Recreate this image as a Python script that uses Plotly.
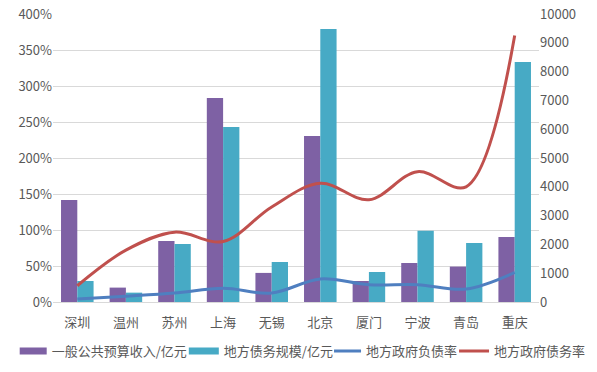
import plotly.graph_objects as go

cities = ["深圳", "温州", "苏州", "上海", "无锡", "北京", "厦门", "宁波", "青岛", "重庆"]
budget_income = [3538, 500, 2118, 7083, 1010, 5764, 730, 1355, 1230, 2257]
debt_scale = [730, 325, 2014, 6076, 1390, 9480, 1042, 2476, 2049, 8333]
liability_rate = [4, 8, 12.5, 19, 12.5, 32, 24, 24, 18, 41]
debt_rate = [22.6, 72, 97, 84, 132, 165, 142, 181, 160, 370]

names = ["一般公共预算收入/亿元", "地方债务规模/亿元", "地方政府负债率", "地方政府债务率"]
colors = ["#7E61A4", "#47AAC5", "#4F7FC0", "#C0504D"]

font_family = "Noto Sans CJK SC, Noto Sans, sans-serif"
grey = "#595959"

fig = go.Figure()
fig.add_trace(go.Bar(x=cities, y=budget_income, name=names[0], showlegend=False,
                     marker=dict(color=colors[0], line=dict(width=0)), yaxis="y"))
fig.add_trace(go.Bar(x=cities, y=debt_scale, name=names[1], showlegend=False,
                     marker=dict(color=colors[1], line=dict(width=0)), yaxis="y"))
fig.add_trace(go.Scatter(x=cities, y=liability_rate, name=names[2], mode="lines",
                         line=dict(color=colors[2], width=3, shape="spline", smoothing=1.0),
                         yaxis="y2", legend="legend2"))
fig.add_trace(go.Scatter(x=cities, y=debt_rate, name=names[3], mode="lines",
                         line=dict(color=colors[3], width=3, shape="spline", smoothing=1.0),
                         yaxis="y2", legend="legend2"))
# legend-only entries drawn as wide blocks, like the reference's bar swatches
for i in range(2):
    fig.add_trace(go.Scatter(x=[None], y=[None], name=names[i], mode="lines",
                             line=dict(color=colors[i], width=7), yaxis="y2",
                             legend="legend", legendrank=i + 1))

legend_common = dict(orientation="h", xref="container", yref="container",
                     yanchor="middle", y=0.056, font=dict(size=13, color=grey),
                     itemwidth=30, indentation=-8, tracegroupgap=0,
                     bgcolor="rgba(0,0,0,0)")

fig.update_layout(
    width=597, height=372,
    margin=dict(l=53, r=58, t=14, b=70, autoexpand=False),
    paper_bgcolor="white", plot_bgcolor="white",
    font=dict(family=font_family, size=12, color=grey),
    barmode="group", bargap=0.33, bargroupgap=0,
    showlegend=True,
    legend=dict(legend_common, x=0.033, xanchor="left"),
    legend2=dict(legend_common, x=0.99, xanchor="right"),
    xaxis=dict(showgrid=False, showline=True, linecolor="#D9D9D9", linewidth=1,
               ticks="", ticklabelstandoff=8, tickfont=dict(size=13, color=grey)),
    yaxis=dict(side="right", range=[0, 10000], dtick=1000, tickformat="d", showgrid=False,
               zeroline=False, showline=False, tickfont=dict(size=13, color=grey)),
    yaxis2=dict(side="left", overlaying="y", range=[0, 400], dtick=50, ticksuffix="%",
                showgrid=True, gridcolor="#D9D9D9", gridwidth=1, zeroline=False,
                showline=False, tickfont=dict(size=13, color=grey)),
)

fig.write_html("out.html", config={"displayModeBar": False},
               post_script="document.body.style.margin='0px';")
